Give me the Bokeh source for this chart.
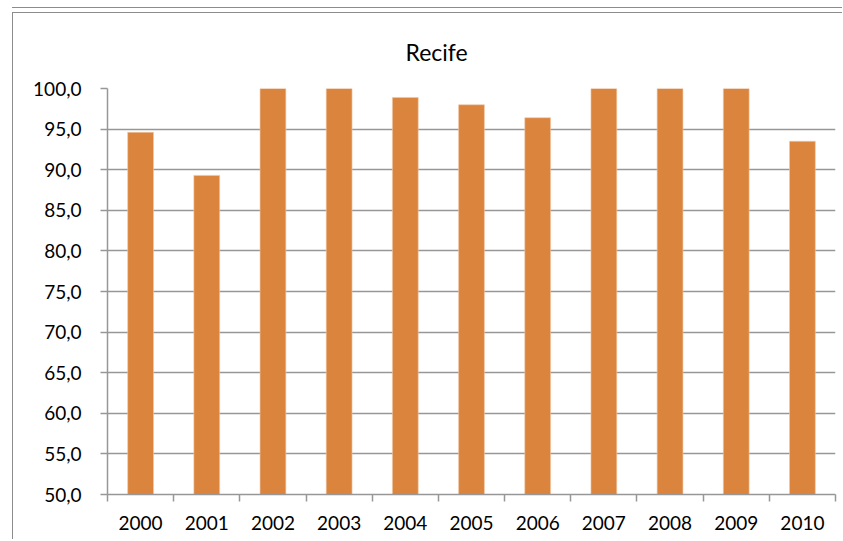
from bokeh.plotting import figure
from bokeh.models import Range1d, FixedTicker
from bokeh.embed import file_html
from bokeh.resources import INLINE

title_text = "Recife"
years = ["2000", "2001", "2002", "2003", "2004", "2005", "2006", "2007", "2008", "2009", "2010"]
values = [94.6, 89.3, 100.0, 100.0, 98.9, 98.0, 96.4, 100.0, 100.0, 100.0, 93.5]
y_ticks = [50, 55, 60, 65, 70, 75, 80, 85, 90, 95, 100]

x_idx = list(range(len(years)))

p = figure(width=830, height=527, output_backend="svg", toolbar_location=None,
           x_range=Range1d(-0.5, len(years) - 0.5), y_range=Range1d(50, 100),
           min_border_left=94, min_border_right=8, min_border_top=75, min_border_bottom=46)
p.margin = (12, 0, 0, 12)
p.styles = {"border-left": "1px solid #8c8c8c", "border-top": "1px solid #8c8c8c",
            "box-shadow": "0 -4px 0 0 #ffffff, 0 -5px 0 0 #8c8c8c"}

p.vbar(x=x_idx, top=values, bottom=50, width=0.39, fill_color="#DB843D", line_color="#F0C8A8",
       line_width=0.6)

p.outline_line_color = None
p.background_fill_color = "white"
p.border_fill_color = "white"

# title
p.title.text = title_text
p.title.text_font = "Lato"
p.title.text_font_size = "23px"
p.title.text_font_style = "normal"
p.title.text_color = "#000000"
p.title.align = "left"
p.title.offset = 298
p.title.standoff = 45

# grid
p.xgrid.grid_line_color = None
p.ygrid.grid_line_color = "#979797"
p.ygrid.grid_line_width = 1.5
p.ygrid.ticker = FixedTicker(ticks=y_ticks)

# y axis
p.yaxis.ticker = FixedTicker(ticks=y_ticks)
p.yaxis.major_label_overrides = {t: f"{t:.1f}".replace(".", ",") for t in y_ticks}
p.yaxis.axis_line_color = "#979797"
p.yaxis.axis_line_width = 1.5
p.yaxis.major_tick_line_color = "#979797"
p.yaxis.major_tick_line_width = 1.5
p.yaxis.major_tick_out = 7
p.yaxis.major_tick_in = 0
p.yaxis.minor_tick_line_color = None
p.yaxis.major_label_standoff = 19
p.yaxis.major_label_text_font = "Lato"
p.yaxis.major_label_text_font_size = "19px"
p.yaxis.major_label_text_color = "#000000"

# x axis
p.xaxis.ticker = FixedTicker(ticks=x_idx, minor_ticks=[i - 0.5 for i in range(len(years) + 1)])
p.xaxis.major_label_overrides = {i: y for i, y in zip(x_idx, years)}
p.xaxis.axis_line_color = "#979797"
p.xaxis.axis_line_width = 1.5
p.xaxis.major_tick_line_color = None
p.xaxis.major_tick_out = 0
p.xaxis.major_tick_in = 0
p.xaxis.minor_tick_line_color = "#979797"
p.xaxis.minor_tick_line_width = 1.5
p.xaxis.minor_tick_out = 7
p.xaxis.minor_tick_in = 0
p.xaxis.major_label_standoff = 14
p.xaxis.major_label_text_font = "Lato"
p.xaxis.major_label_text_font_size = "19px"
p.xaxis.major_label_text_color = "#000000"

open("out.html", "w").write(file_html(p, INLINE))
